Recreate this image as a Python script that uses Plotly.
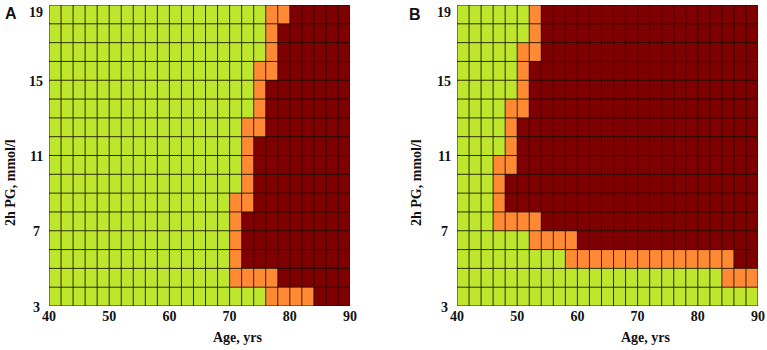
import plotly.graph_objects as go

# ---- data ----
age_starts = [40 + 2 * i for i in range(25)]          # 2-year age bins 40..90
pg_starts_top_down = [18 - i for i in range(16)]       # 1 mmol/l bins, 19 -> 3
x_ticks = [40, 50, 60, 70, 80, 90]
y_ticks = [3, 7, 11, 15, 19]

# 0 = green (low risk), 1 = orange, 2 = dark red ; rows listed top (18-19) to bottom (3-4)
panel_a_rows = [
    "00000 00000 00000 00011 22222",
    "00000 00000 00000 00012 22222",
    "00000 00000 00000 00012 22222",
    "00000 00000 00000 00112 22222",
    "00000 00000 00000 00122 22222",
    "00000 00000 00000 00122 22222",
    "00000 00000 00000 01122 22222",
    "00000 00000 00000 01222 22222",
    "00000 00000 00000 01222 22222",
    "00000 00000 00000 01222 22222",
    "00000 00000 00000 11222 22222",
    "00000 00000 00000 12222 22222",
    "00000 00000 00000 12222 22222",
    "00000 00000 00000 12222 22222",
    "00000 00000 00000 11112 22222",
    "00000 00000 00000 00011 11222",
]
panel_b_rows = [
    "00000 01222 22222 22222 22222",
    "00000 01222 22222 22222 22222",
    "00000 11222 22222 22222 22222",
    "00000 12222 22222 22222 22222",
    "00000 12222 22222 22222 22222",
    "00001 12222 22222 22222 22222",
    "00001 22222 22222 22222 22222",
    "00001 22222 22222 22222 22222",
    "00011 22222 22222 22222 22222",
    "00012 22222 22222 22222 22222",
    "00012 22222 22222 22222 22222",
    "00011 11222 22222 22222 22222",
    "00000 01111 22222 22222 22222",
    "00000 00001 11111 11111 11122",
    "00000 00000 00000 00000 00111",
    "00000 00000 00000 00000 00000",
]


def parse(rows):
    z = [[int(c) for c in r.replace(" ", "")] for r in rows]
    assert all(len(r) == 25 for r in z) and len(z) == 16
    return z


z_a = parse(panel_a_rows)
z_b = parse(panel_b_rows)

GREEN = "#BDE62C"
ORANGE = "#FF8A33"
RED = "#7F0000"
GRID = "rgba(20,15,0,0.85)"
colorscale = [[0, GREEN], [0.333, GREEN], [0.333, ORANGE], [0.667, ORANGE],
              [0.667, RED], [1, RED]]

x_centers = [a + 1 for a in age_starts]
y_centers = [p + 0.5 for p in pg_starts_top_down]

# grid line segments at every bin boundary (data coordinates)
x_edges = age_starts + [age_starts[-1] + 2]
y_edges = sorted(pg_starts_top_down) + [max(pg_starts_top_down) + 1]
gx, gy = [], []
for xe in x_edges:
    gx += [xe, xe, None]
    gy += [y_edges[0], y_edges[-1], None]
for ye in y_edges:
    gx += [x_edges[0], x_edges[-1], None]
    gy += [ye, ye, None]

W, H = 767, 350
fig = go.Figure()
for z, xa, ya in [(z_a, "x", "y"), (z_b, "x2", "y2")]:
    fig.add_trace(go.Heatmap(
        z=z, x=x_centers, y=y_centers, xaxis=xa, yaxis=ya,
        colorscale=colorscale, zmin=0, zmax=2, showscale=False,
        hoverinfo="skip"))
    fig.add_trace(go.Scatter(
        x=gx, y=gy, xaxis=xa, yaxis=ya, mode="lines",
        line=dict(color=GRID, width=1), hoverinfo="skip", showlegend=False,
        cliponaxis=False))

tickfont = dict(family="Liberation Serif", size=14, color="#111", weight="bold")
ydom = [1 - 306 / H, 1 - 5 / H]
x_doms = [[49 / W, 350 / W], [457 / W, 758 / W]]


def xaxis(dom, anchor):
    return dict(domain=dom, anchor=anchor, range=[40, 90], tickvals=x_ticks,
                showgrid=False, zeroline=False, ticks="", tickfont=tickfont,
                automargin=False, ticklabeloverflow="allow", showline=False)


def yaxis(anchor):
    # y tick labels are drawn as centred text below (the original centres them)
    return dict(domain=ydom, anchor=anchor, range=[3, 19], tickvals=y_ticks,
                showticklabels=False,
                showgrid=False, zeroline=False, ticks="",
                automargin=False, showline=False)


fig.update_layout(
    template="none",
    width=W, height=H, autosize=False,
    margin=dict(l=0, r=0, t=0, b=0, autoexpand=False),
    paper_bgcolor="white", plot_bgcolor="white",
    xaxis=xaxis(x_doms[0], "y"),
    yaxis=yaxis("x"),
    xaxis2=xaxis(x_doms[1], "y2"),
    yaxis2=yaxis("x2"),
)

# y tick labels, centred 13 px left of each panel
for dom, yref in zip(x_doms, ["y", "y2"]):
    for v in y_ticks:
        top = v == max(y_ticks)
        fig.add_annotation(text=str(v), xref="paper", yref=yref, x=dom[0], y=v,
                           xanchor="center", xshift=-13,
                           yanchor="top" if top else "middle",
                           yshift=2 if top else -1,
                           showarrow=False, font=tickfont)

title_font = dict(family="Liberation Serif", size=14, color="#111", weight="bold")
panel_font = dict(family="Liberation Sans", size=16, color="#111", weight="bold")
annos = [
    dict(text="Age, yrs", x=238 / W, y=1 - 337 / H, font=title_font),
    dict(text="Age, yrs", x=646 / W, y=1 - 337 / H, font=title_font),
    dict(text="2h PG, mmol/l", x=10 / W, y=1 - 183 / H, textangle=-90, font=title_font),
    dict(text="2h PG, mmol/l", x=416 / W, y=1 - 183 / H, textangle=-90, font=title_font),
    dict(text="A", x=11 / W, y=1 - 13 / H, font=panel_font),
    dict(text="B", x=415 / W, y=1 - 14 / H, font=panel_font),
]
for a in annos:
    fig.add_annotation(xref="paper", yref="paper", xanchor="center", yanchor="middle",
                       showarrow=False, **a)

fig.write_html("out.html", config={"displayModeBar": False},
               post_script="document.body.style.margin='0';")
